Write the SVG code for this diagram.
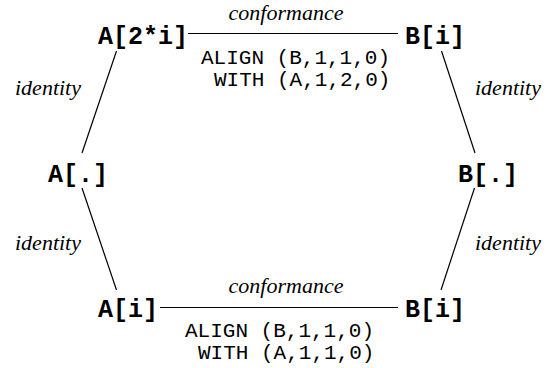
<svg xmlns="http://www.w3.org/2000/svg" width="548" height="368" viewBox="0 0 548 368">
<style>
.node{font-family:"Liberation Mono","DejaVu Sans Mono",monospace;font-weight:bold;font-size:25px;fill:#000}
.code{font-family:"Liberation Mono","DejaVu Sans Mono",monospace;font-size:21px;fill:#000}
.lab{font-family:"Liberation Serif","DejaVu Serif",serif;font-style:italic;font-size:22px;fill:#000}
.edge{stroke:#000;stroke-width:1.2;fill:none}
</style>
<rect width="548" height="368" fill="#fff"/>
<g id="connectors">
<line class="edge" x1="188" y1="33.5" x2="398" y2="33.5"/>
<line class="edge" x1="160" y1="307.5" x2="398" y2="307.5"/>
<line class="edge" x1="116.5" y1="51" x2="82" y2="153"/>
<line class="edge" x1="82" y1="188" x2="116.5" y2="290"/>
<line class="edge" x1="441.5" y1="51" x2="475" y2="153"/>
<line class="edge" x1="474.5" y1="188" x2="441" y2="290"/>
</g>
<g id="labels">
<text class="lab" x="286" y="20" text-anchor="middle">conformance</text>
<text class="lab" x="286" y="293" text-anchor="middle">conformance</text>
<text class="lab" x="15" y="95">identity</text>
<text class="lab" x="475" y="95">identity</text>
<text class="lab" x="15" y="250">identity</text>
<text class="lab" x="475" y="250">identity</text>
<text class="code" x="201" y="63.5">ALIGN (B,1,1,0)</text>
<text class="code" x="214" y="86">WITH (A,1,2,0)</text>
<text class="code" x="185" y="336.5">ALIGN (B,1,1,0)</text>
<text class="code" x="198" y="358.5">WITH (A,1,1,0)</text>
</g>
<g id="A2i"><text class="node" x="98" y="44">A[2*i]</text></g>
<g id="Bi_top"><text class="node" x="405" y="44">B[i]</text></g>
<g id="Adot"><text class="node" x="48" y="182">A[.]</text></g>
<g id="Bdot"><text class="node" x="458" y="182">B[.]</text></g>
<g id="Ai"><text class="node" x="98" y="317">A[i]</text></g>
<g id="Bi_bottom"><text class="node" x="405" y="317">B[i]</text></g>
</svg>
